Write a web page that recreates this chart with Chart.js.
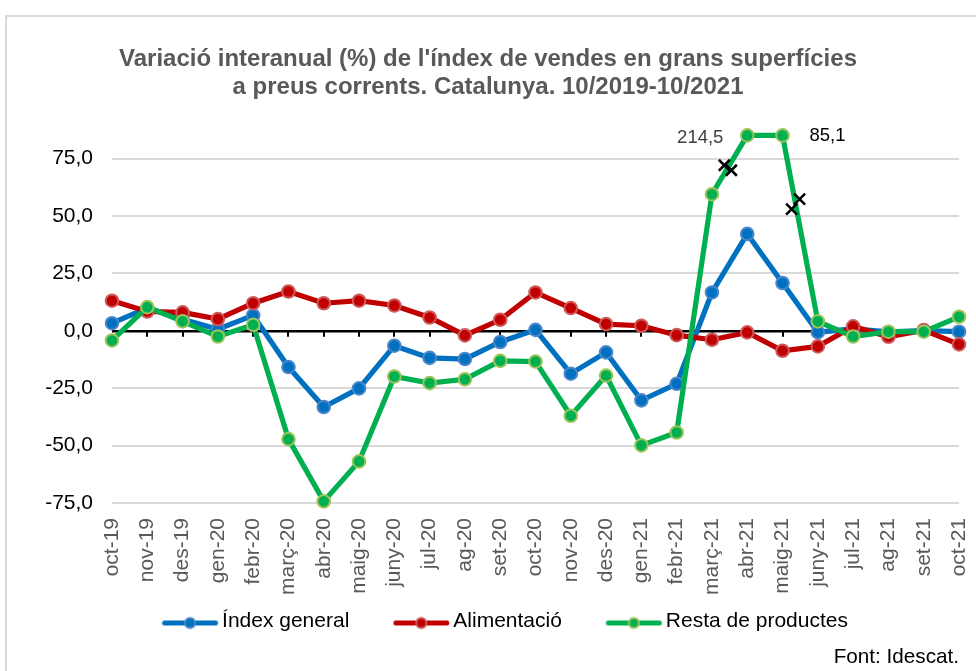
<!DOCTYPE html>
<html>
<head>
<meta charset="utf-8">
<script src="https://cdn.jsdelivr.net/npm/chart.js@4.4.1/dist/chart.umd.min.js"></script>
<style>
  html, body { margin: 0; padding: 0; background: #fff; }
  canvas { display: block; }
</style>
</head>
<body>
<canvas id="c" width="976" height="671"></canvas>
<script>
// ---- Data ----
const categories = ['oct-19','nov-19','des-19','gen-20','febr-20','març-20','abr-20','maig-20','juny-20','jul-20','ag-20','set-20','oct-20','nov-20','des-20','gen-21','febr-21','març-21','abr-21','maig-21','juny-21','jul-21','ag-21','set-21','oct-21'];
const indexGeneral = [3.3, 9.9, 5.0, 0.7, 6.7, -15.8, -33.2, -25.1, -6.5, -11.8, -12.3, -4.9, 0.4, -18.7, -9.4, -30.3, -23.1, 16.7, 42.2, 20.8, -0.6, 0.8, -0.5, 0.1, -0.4];
const alimentacio = [13.1, 8.4, 8.0, 5.1, 12.0, 17.1, 12.0, 13.1, 11.0, 5.8, -2.0, 4.8, 16.7, 9.9, 2.9, 2.2, -1.9, -3.9, -0.7, -8.7, -6.8, 1.9, -2.6, 0.3, -5.9];
const restaProductes = [-4.2, 10.3, 4.1, -2.5, 2.6, -47.2, -74.3, -56.9, -19.9, -22.8, -21.1, -13.1, -13.4, -37.0, -19.5, -49.9, -44.3, 59.5, 214.5, 85.1, 4.1, -2.5, -0.4, -0.4, 6.1];
const seriesNames = ['Índex general', 'Alimentació', 'Resta de productes'];
const titleLines = ["Variació interanual (%) de l'índex de vendes en grans superfícies", "a preus corrents. Catalunya. 10/2019-10/2021"];
const sourceText = 'Font: Idescat.';
const yMin = -75, yMax = 85.1, yStep = 25;

// ---- Styles ----
const colors = [
  { line: '#0070C0', fill: '#0070C0', border: '#4A86C8' },
  { line: '#C00000', fill: '#C00000', border: '#CD5A5A' },
  { line: '#00B050', fill: '#00B050', border: '#9DC45A' }
];
const FONT = "'Liberation Sans', Arial, sans-serif";
const fmt = v => v.toFixed(1).replace('.', ',');

function makeSample(c) {
  const cv = document.createElement('canvas');
  cv.width = 100; cv.height = 20;
  const g = cv.getContext('2d');
  g.strokeStyle = c.line; g.lineWidth = 5; g.lineCap = 'round';
  g.beginPath(); g.moveTo(44.75, 11.5); g.lineTo(95.75, 11.5); g.stroke();
  g.beginPath(); g.arc(70.25, 11.5, 5, 0, Math.PI * 2);
  g.fillStyle = c.fill; g.fill();
  g.lineWidth = 2; g.strokeStyle = c.border; g.stroke();
  return cv;
}
const samples = colors.map(makeSample);

function ds(label, values, c, order) {
  return {
    label,
    data: values.map(v => Math.min(v, yMax)),
    borderColor: c.line,
    backgroundColor: c.fill,
    pointBackgroundColor: c.fill,
    pointBorderColor: c.border,
    pointBorderWidth: 2,
    pointRadius: 6.3,
    pointHoverRadius: 6.3,
    borderWidth: 5.2,
    tension: 0,
    clip: false,
    order
  };
}

const framePlugin = {
  id: 'frame',
  beforeDraw(chart) {
    const ctx = chart.ctx;
    ctx.save();
    ctx.fillStyle = '#fff';
    ctx.fillRect(0, 0, chart.width, chart.height);
    ctx.strokeStyle = '#D9D9D9';
    ctx.lineWidth = 2;
    ctx.strokeRect(6, 16, 1200, 900);
    ctx.restore();
  }
};

const axisTicksPlugin = {
  id: 'axisTicks',
  beforeDatasetsDraw(chart) {
    const ctx = chart.ctx, xs = chart.scales.x, ys = chart.scales.y;
    const y0 = ys.getPixelForValue(0);
    ctx.save();
    ctx.strokeStyle = '#000';
    ctx.lineWidth = 2;
    ctx.beginPath();
    for (let i = 1; i < categories.length; i++) {
      const x = Math.round(xs.getPixelForValue(i));
      ctx.moveTo(x, y0);
      ctx.lineTo(x, y0 + 6);
    }
    ctx.stroke();
    ctx.restore();
  }
};

// break marks and labels for the values that go off the scale
const breakMarks = [
  { seg: 17, t: 0.45, offs: [[-3.5, -2.5], [3.5, 2.5]] },
  { seg: 19, t: 0.37, offs: [[-4, 5], [4, -5]] }
];
const breakPlugin = {
  id: 'breaks',
  afterDatasetsDraw(chart) {
    const ctx = chart.ctx, xs = chart.scales.x, ys = chart.scales.y;
    const data = chart.data.datasets[2].data;
    ctx.save();
    ctx.strokeStyle = '#000';
    ctx.lineWidth = 2.5;
    breakMarks.forEach(b => {
      const x1 = xs.getPixelForValue(b.seg), y1 = ys.getPixelForValue(data[b.seg]);
      const x2 = xs.getPixelForValue(b.seg + 1), y2 = ys.getPixelForValue(data[b.seg + 1]);
      const cx = x1 + (x2 - x1) * b.t, cy = y1 + (y2 - y1) * b.t;
      b.offs.forEach(o => {
        const px = cx + o[0], py = cy + o[1], s = 5.5;
        ctx.beginPath();
        ctx.moveTo(px - s, py - s); ctx.lineTo(px + s, py + s);
        ctx.moveTo(px + s, py - s); ctx.lineTo(px - s, py + s);
        ctx.stroke();
      });
    });
    // value labels of the cut points
    ctx.font = '18.5px ' + FONT;
    ctx.textBaseline = 'middle';
    ctx.textAlign = 'center';
    const iA = 18, iB = 19;
    ctx.fillStyle = '#404040';
    ctx.fillText(fmt(restaProductes[iA]), xs.getPixelForValue(iA) - 47, ys.getPixelForValue(data[iA]) + 2);
    ctx.fillStyle = '#000';
    ctx.fillText(fmt(restaProductes[iB]), xs.getPixelForValue(iB) + 45, ys.getPixelForValue(data[iB]));
    ctx.restore();
  }
};

new Chart(document.getElementById('c'), {
  type: 'line',
  data: {
    labels: categories,
    datasets: [
      ds(seriesNames[0], indexGeneral, colors[0], 2),
      ds(seriesNames[1], alimentacio, colors[1], 1),
      ds(seriesNames[2], restaProductes, colors[2], 0)
    ]
  },
  options: {
    responsive: false,
    animation: false,
    devicePixelRatio: 1,
    layout: { padding: { top: 45, left: 17, right: 17, bottom: 0 } },
    events: [],
    scales: {
      x: {
        offset: false,
        grid: { display: false, drawTicks: false },
        border: { display: false },
        ticks: {
          autoSkip: false, maxRotation: 90, minRotation: 90, padding: 15,
          color: '#595959', font: { family: FONT, size: 21 }
        },
        afterFit(s) { s.height = 98; s.paddingLeft = 0; s.paddingRight = 0; }
      },
      y: {
        min: yMin, max: yMax,
        border: { display: false },
        grid: {
          drawTicks: false,
          color: ctx => (ctx.tick && ctx.tick.value === 0) ? '#000' : '#D9D9D9',
          lineWidth: ctx => (ctx.tick && ctx.tick.value === 0) ? 2.5 : 2
        },
        ticks: {
          stepSize: yStep, padding: 19, color: '#000',
          includeBounds: false, autoSkip: false,
          font: { family: FONT, size: 21 },
          callback: v => fmt(v)
        },
        afterBuildTicks(s) { s.ticks = s.ticks.filter(t => Math.abs(t.value % yStep) < 1e-9); },
        afterFit(s) { s.width = 95; }
      }
    },
    plugins: {
      tooltip: { enabled: false },
      title: {
        display: true,
        text: titleLines,
        color: '#595959',
        font: { family: FONT, size: 24, weight: 'bold', lineHeight: 1.19 },
        padding: { top: 0, bottom: 33.3 }
      },
      subtitle: {
        display: true,
        position: 'bottom',
        align: 'end',
        text: sourceText,
        color: '#000',
        font: { family: FONT, size: 20.7, lineHeight: 1.2 },
        padding: { top: 3, bottom: 1.2 }
      },
      legend: {
        position: 'bottom',
        labels: {
          usePointStyle: true,
          pointStyleWidth: 83.5,
          padding: 10,
          color: '#000',
          font: { family: FONT, size: 21 },
          generateLabels: chart => chart.data.datasets.map((d, i) => ({
            text: d.label,
            pointStyle: samples[i],
            fillStyle: d.borderColor,
            strokeStyle: d.borderColor,
            lineWidth: 0,
            hidden: false,
            datasetIndex: i,
            fontColor: '#000'
          }))
        }
      }
    }
  },
  plugins: [framePlugin, axisTicksPlugin, breakPlugin]
});
</script>
</body>
</html>
